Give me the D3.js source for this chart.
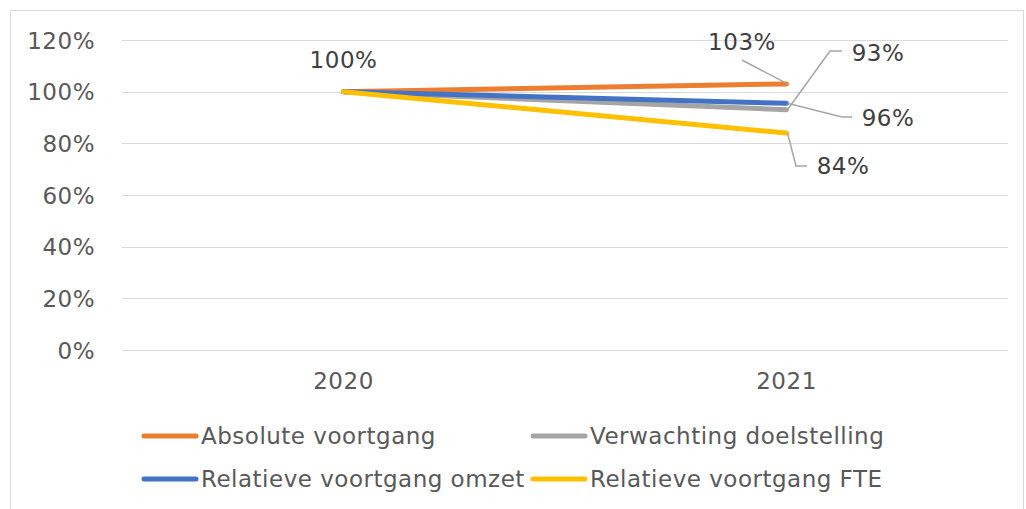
<!DOCTYPE html>
<html>
<head>
<meta charset="utf-8">
<script src="https://cdn.jsdelivr.net/npm/d3@7"></script>
<style>
  body { margin: 0; background: #fff; }
  svg text { font-family: "DejaVu Sans", Verdana, sans-serif; font-size: 23px; letter-spacing: 0.5px; }
</style>
</head>
<body>
<div id="chart"></div>
<script>
// Data
const years = ["2020", "2021"];
const seriesNames = ["Absolute voortgang", "Verwachting doelstelling", "Relatieve voortgang omzet", "Relatieve voortgang FTE"];
const seriesColors = ["#ED7D31", "#A5A5A5", "#4472C4", "#FFC000"];
const absoluteValues = [1.00, 1.03];
const verwachtingValues = [1.00, 0.93];
const omzetValues = [1.00, 0.955];
const fteValues = [1.00, 0.84];
const yTicks = [0, 0.2, 0.4, 0.6, 0.8, 1.0, 1.2];

const allValues = [absoluteValues, verwachtingValues, omzetValues, fteValues];

const width = 1026, height = 509;
const margin = { top: 40, right: 18, bottom: 159, left: 122 };

const svg = d3.select('#chart').append('svg')
    .attr('width', width)
    .attr('height', height);

// chart border
svg.append('rect')
    .attr('x', 10.5).attr('y', 10.5)
    .attr('width', 1013).attr('height', 520)
    .attr('fill', 'none')
    .attr('stroke', '#d9d9d9');

const x = d3.scaleBand()
    .domain(years)
    .range([margin.left, width - margin.right]);

const y = d3.scaleLinear()
    .domain([0, 1.2])
    .range([height - margin.bottom, margin.top]);

// gridlines
svg.append('g')
    .selectAll('line')
    .data(yTicks)
    .enter()
    .append('line')
    .attr('x1', margin.left)
    .attr('x2', width - margin.right)
    .attr('y1', d => Math.round(y(d)) + 0.5)
    .attr('y2', d => Math.round(y(d)) + 0.5)
    .attr('stroke', '#d9d9d9')
    .attr('stroke-width', 1);

// y axis labels
const yAxis = svg.append('g')
    .attr('transform', `translate(${margin.left - 24},0)`)
    .call(d3.axisLeft(y).tickValues(yTicks).tickSize(0).tickFormat(d => Math.round(d * 100) + '%'));
yAxis.select('.domain').remove();
yAxis.attr('font-size', null).attr('font-family', null);
yAxis.selectAll('text')
    .attr('fill', '#595959')
    .attr('dy', '0.35em');

// x axis labels
const xAxis = svg.append('g')
    .attr('transform', `translate(0,${height - margin.bottom + 20})`)
    .call(d3.axisBottom(x).tickSize(0));
xAxis.select('.domain').remove();
xAxis.attr('font-size', null).attr('font-family', null);
xAxis.selectAll('text')
    .attr('fill', '#595959')
    .attr('dy', '0.7em');

const cx = d => x(d) + x.bandwidth() / 2;

// lines
const line = d3.line()
    .x((d, i) => cx(years[i]))
    .y(d => y(d));

svg.append('g')
    .selectAll('path')
    .data(allValues)
    .enter()
    .append('path')
    .attr('d', line)
    .attr('fill', 'none')
    .attr('stroke', (d, i) => seriesColors[i])
    .attr('stroke-width', 5)
    .attr('stroke-linecap', 'round');

// data labels with leader lines
const endX = cx(years[1]);
const labels = [
    { text: '103%', v: absoluteValues[1], tx: 742, ty: 42, path: [[742, 60]] },
    { text: '93%', v: verwachtingValues[1], tx: 878, ty: 53, path: [[830, 51], [842, 51]] },
    { text: '96%', v: omzetValues[1], tx: 888, ty: 118, path: [[842, 117], [852, 117]] },
    { text: '84%', v: fteValues[1], tx: 843, ty: 166, path: [[796, 166], [807, 166]] }
];

labels.forEach(l => {
    const pts = [[endX + 1, y(l.v)]].concat(l.path);
    svg.append('path')
        .attr('d', d3.line()(pts))
        .attr('fill', 'none')
        .attr('stroke', '#a6a6a6')
        .attr('stroke-width', 1.5);
    svg.append('text')
        .attr('x', l.tx).attr('y', l.ty)
        .attr('text-anchor', 'middle')
        .attr('dy', '0.35em')
        .attr('fill', '#404040')
        .text(l.text);
});

svg.append('text')
    .attr('x', cx(years[0])).attr('y', 60)
    .attr('text-anchor', 'middle')
    .attr('dy', '0.35em')
    .attr('fill', '#404040')
    .text('100%');

// legend
const legendItems = [
    { i: 0, x: 142, y: 436 },
    { i: 1, x: 531, y: 436 },
    { i: 2, x: 142, y: 479 },
    { i: 3, x: 531, y: 479 }
];
const legend = svg.append('g');
legendItems.forEach(it => {
    legend.append('line')
        .attr('x1', it.x + 2).attr('x2', it.x + 54)
        .attr('y1', it.y).attr('y2', it.y)
        .attr('stroke', seriesColors[it.i])
        .attr('stroke-width', 5)
        .attr('stroke-linecap', 'round');
    legend.append('text')
        .attr('x', it.x + 59).attr('y', it.y)
        .attr('dy', '0.35em')
        .attr('fill', '#595959')
        .text(seriesNames[it.i]);
});
</script>
</body>
</html>
